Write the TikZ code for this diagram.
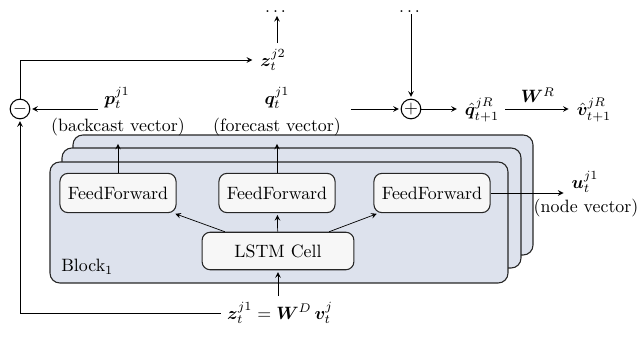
\documentclass[tikz,border=0pt]{standalone}
\usepackage{amsmath,amssymb,bm}
\usepackage{tikz}
\usetikzlibrary{arrows}
\definecolor{blockfill}{RGB}{221,226,237}
\definecolor{cellfill}{RGB}{247,247,247}
\tikzstyle{blk}=[draw=black!85,fill=blockfill,rounded corners=5.5pt,semithick]
\tikzstyle{ff}=[shape=rectangle,draw=black!85,fill=cellfill,rounded corners=4.5pt,semithick,minimum width=65pt,minimum height=22pt]
\tikzstyle{cell}=[shape=rectangle,draw=black!85,fill=cellfill,rounded corners=4.5pt,semithick,minimum width=85pt,minimum height=21pt]
\tikzstyle{op}=[shape=circle,draw,inner sep=0pt,minimum size=11pt,semithick]
\tikzstyle{arr}=[->,shorten >=1pt,>=stealth,thin]
\tikzstyle{dts}=[anchor=base,inner sep=1pt]

\begin{document}
\begin{tikzpicture}[x=0.56pt,y=-0.56pt]
        \useasboundingbox (0,0) rectangle (642,339);
        % stacked blocks
        \draw[blk] (73,135) rectangle (533,255);
        \draw[blk] (62,148) rectangle (521,268);
        \draw[blk] (50,162) rectangle (508,283);
        \node[anchor=base west] (blocklbl) at (55,272) {Block$_1$};

        \node[ff] (F1) at (118,193) {FeedForward};
        \node[ff] (F2) at (277,193) {FeedForward};
        \node[ff] (F3) at (432,193) {FeedForward};
        \node[cell] (L) at (278,251) {LSTM Cell}
            edge[arr] (F1)
            edge[arr] (F2)
            edge[arr] (F3)
        ;
        \coordinate (t1) at (118,142);
        \coordinate (t2) at (277,142);
        \draw[arr] (F1) -- (t1);
        \draw[arr] (F2) -- (t2);

        % outputs
        \node (p) at (117,98) {$\bm{p}_t^{j1}$};
        \node (bv) at (118,127) {(backcast vector)};
        \node (q) at (277,98) {$\bm{q}_t^{j1}$};
        \node (fv) at (277,127) {(forecast vector)};
        \node (u) at (585,182) {$\bm{u}_t^{j1}$};
        \node (nv) at (586,208) {(node vector)};
        \draw[arr] (F3.east) -- (F3.east -| u.west);

        % residual
        \node[op] (minus) at (20,109) {$-$};
        \draw[arr] (p.west |- minus) -- (minus);
        \node (z2) at (273,60) {$\bm{z}_t^{j2}$};
        \node[dts] (dots1) at (277,12) {$\dots$};
        \draw[arr] (minus) |- (z2);
        \draw[arr] (dots1 |- z2.north) -- (dots1.south);

        % forecast sum
        \node[op] (plus) at (411,109) {$+$};
        \node[dts] (dots2) at (411,12) {$\dots$};
        \coordinate (qin) at (351,109);
        \draw[arr] (dots2) -- (plus);
        \draw[arr] (qin) -- (plus);
        \node (qhat) at (482,110) {$\hat{\bm{q}}_{t+1}^{jR}$};
        \node (vhat) at (594,110) {$\hat{\bm{v}}_{t+1}^{jR}$};
        \draw[arr] (plus) -- (qhat.west |- plus);
        \draw[arr] (qhat.east |- plus) -- node[above] {$\bm{W}^R$} (vhat.west |- plus);

        % input
        \node (z1) at (280,313) {$\bm{z}_t^{j1} = \bm{W}^D\,\bm{v}_t^j$};
        \draw[arr] (z1.north -| L) -- (L);
        \draw[arr] (z1.west) -| (minus);
    \end{tikzpicture}
\end{document}
